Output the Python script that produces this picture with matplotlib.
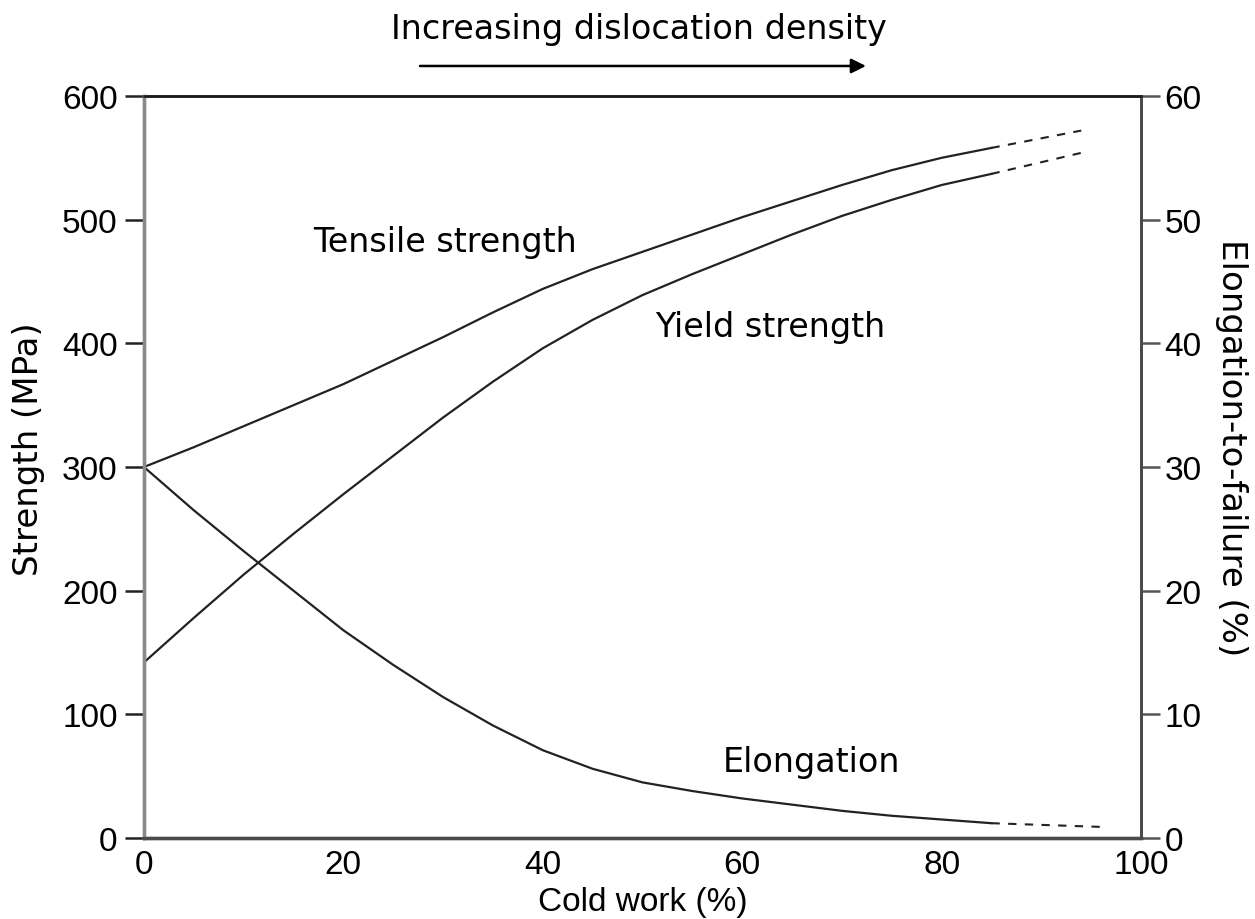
import matplotlib

matplotlib.use("Agg")
import matplotlib.pyplot as plt

# values
COLD_WORK = [0, 5, 10, 15, 20, 25, 30, 35, 40, 45, 50, 55, 60, 65, 70, 75, 80, 85]
TENSILE = [300, 316, 333, 350, 367, 386, 405, 425, 444, 460, 474, 488, 502, 515, 528, 540, 550, 558]
YIELD = [142, 178, 213, 246, 278, 309, 340, 369, 396, 419, 439, 456, 472, 488, 503, 516, 528, 537]
ELONG = [30, 26.5, 23.2, 20.0, 16.8, 14.0, 11.4, 9.1, 7.1, 5.6, 4.5, 3.8, 3.2, 2.7, 2.2, 1.8, 1.5, 1.2]

# dashed extrapolations
TENSILE_EXT_X = [85, 94]
TENSILE_EXT = [558, 572]
YIELD_EXT_X = [85, 94]
YIELD_EXT = [537, 554]
ELONG_EXT_X = [85, 96]
ELONG_EXT = [1.2, 0.9]

X_TICKS = [0, 20, 40, 60, 80, 100]
LEFT_TICKS = [0, 100, 200, 300, 400, 500, 600]
RIGHT_TICKS = [0, 10, 20, 30, 40, 50, 60]

LINE = "#222222"
FS = 24
WIDE = ["DejaVu Sans"]


def main() -> None:
    plt.rcParams["font.family"] = ["Liberation Sans", "DejaVu Sans"]

    fig = plt.figure(figsize=(12.55, 9.2), dpi=100)
    ax = fig.add_axes([0.1147, 0.088, 0.7945, 0.8066])
    ax2 = ax.twinx()

    ax.plot(COLD_WORK, TENSILE, color=LINE, lw=1.6)
    ax.plot(COLD_WORK, YIELD, color=LINE, lw=1.6)
    ax.plot(TENSILE_EXT_X, TENSILE_EXT, color=LINE, lw=1.5, dashes=(4, 4))
    ax.plot(YIELD_EXT_X, YIELD_EXT, color=LINE, lw=1.5, dashes=(4, 4))
    ax2.plot(COLD_WORK, ELONG, color=LINE, lw=1.6)
    ax2.plot(ELONG_EXT_X, ELONG_EXT, color=LINE, lw=1.5, dashes=(4, 4))

    ax.set_xlim(0, 100)
    ax.set_ylim(0, 600)
    ax2.set_ylim(0, 60)
    ax.set_xticks(X_TICKS)
    ax.set_yticks(LEFT_TICKS)
    ax2.set_yticks(RIGHT_TICKS)

    ax.tick_params(axis="x", length=0, pad=8, labelsize=FS)
    ax.tick_params(axis="y", direction="out", length=14, width=1.8,
                   color="#222222", pad=5, labelsize=FS)
    ax2.tick_params(axis="y", direction="out", length=14, width=1.8,
                    color="#555555", pad=3, labelsize=FS)

    for a in (ax, ax2):
        a.spines["left"].set_color("#8a8a8a")
        a.spines["left"].set_linewidth(2.4)
        a.spines["bottom"].set_color("#4a4a4a")
        a.spines["bottom"].set_linewidth(2.4)
        a.spines["top"].set_color("#1a1a1a")
        a.spines["top"].set_linewidth(1.8)
        a.spines["right"].set_color("#4a4a4a")
        a.spines["right"].set_linewidth(2.0)

    ax.set_xlabel("Cold work (%)", fontsize=FS, labelpad=4)

    ax.set_ylabel("Strength (MPa)", fontsize=24.5, family=WIDE)
    ax.yaxis.set_label_coords(-0.1153, 0.526)
    ax.yaxis.label.set_ha("center")
    ax.yaxis.label.set_va("center")

    ax2.set_ylabel("Elongation-to-failure (%)", fontsize=24.5, family=WIDE,
                   rotation=-90)
    ax2.yaxis.set_label_coords(1.091, 0.527)
    ax2.yaxis.label.set_ha("center")
    ax2.yaxis.label.set_va("center")

    ax.text(17.0, 482, "Tensile strength", fontsize=FS, family=WIDE, va="center")
    ax.text(51.3, 414, "Yield strength", fontsize=FS, family=WIDE, va="center")
    ax.text(58.0, 61.5, "Elongation", fontsize=FS, family=WIDE, va="center")

    fig.text(0.509, 0.968, "Increasing dislocation density",
             fontsize=FS, family=WIDE, ha="center", va="center")
    ax.annotate("", xy=(0.690, 0.9272), xytext=(0.3347, 0.9272),
                xycoords="figure fraction", textcoords="figure fraction",
                arrowprops=dict(arrowstyle="-|>", color="black", lw=1.8,
                                mutation_scale=22, shrinkA=0, shrinkB=0))

    fig.savefig("out.png")


if __name__ == "__main__":
    main()
